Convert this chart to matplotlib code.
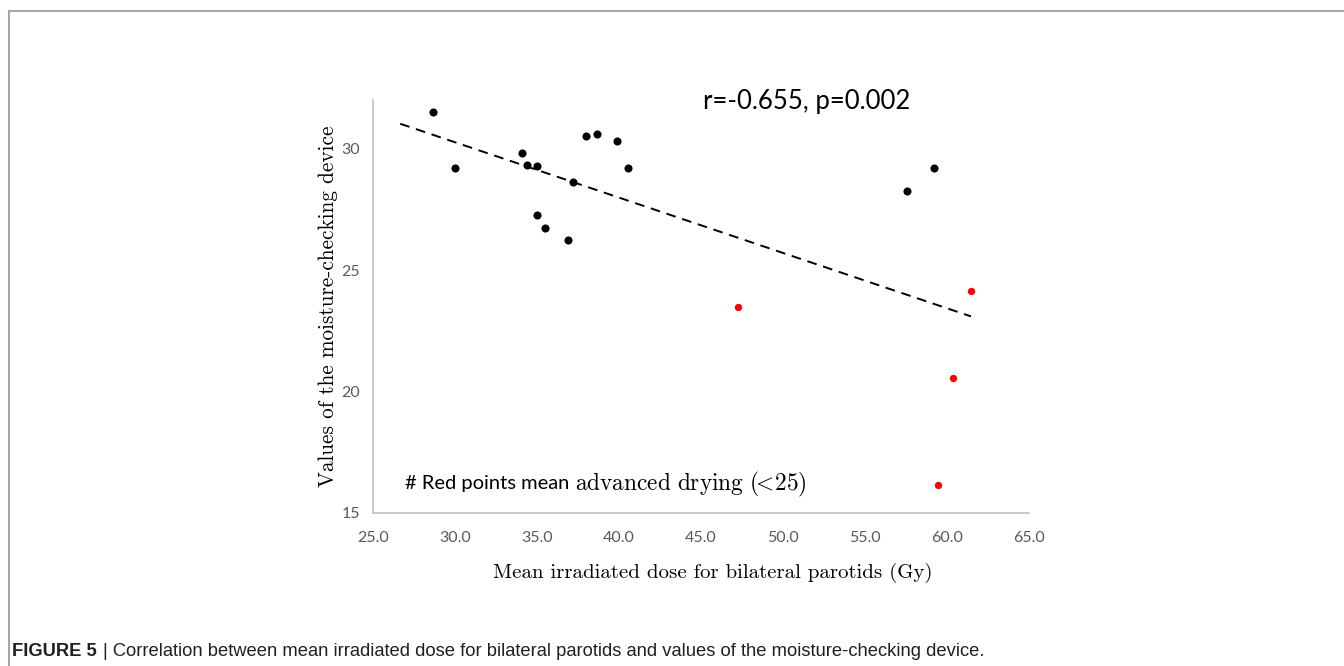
import numpy as np
import matplotlib
matplotlib.use("Agg")
import matplotlib.pyplot as plt
from matplotlib.lines import Line2D
from matplotlib import font_manager as fm

plt.rcParams['mathtext.fontset'] = 'cm'

# Data
dose_normal = [28.66, 30.0, 34.09, 34.39, 35.0, 35.0, 35.49, 36.89, 37.20, 37.99, 38.66, 39.88, 40.55, 57.56, 59.21]
value_normal = [31.52, 29.22, 29.80, 29.34, 29.30, 27.25, 26.72, 26.23, 28.61, 30.53, 30.61, 30.33, 29.22, 28.24, 29.22]
dose_dry = [47.26, 61.46, 60.37, 59.45]
value_dry = [23.48, 24.14, 20.57, 16.15]
x_ticks = [25.0, 30.0, 35.0, 40.0, 45.0, 50.0, 55.0, 60.0, 65.0]
y_ticks = [15, 20, 25, 30]
stat_text = "r=-0.655, p=0.002"
x_label = "Mean irradiated dose for bilateral parotids (Gy)"
y_label = "Values of the moisture-checking device"

names = {f.name for f in fm.fontManager.ttflist}
sans = 'Lato' if 'Lato' in names else 'DejaVu Sans'
narrow = 'Liberation Sans Narrow' if 'Liberation Sans Narrow' in names else 'Liberation Sans'

fig = plt.figure(figsize=(13.44, 6.66), dpi=100)

# outer frame
fig.add_artist(Line2D([9/1344, 9/1344], [0, 1 - 10.5/666], transform=fig.transFigure, color='#a6a6a6', lw=1.5))
fig.add_artist(Line2D([9/1344, 1], [1 - 10.5/666, 1 - 10.5/666], transform=fig.transFigure, color='#a6a6a6', lw=1.5))

ax = fig.add_axes([373/1344, 1 - 513/666, (1029 - 373)/1344, (513 - 100)/666])
ax.set_xlim(25, 65)
ax.set_ylim(15, 32)

all_x = np.array(dose_normal + dose_dry)
all_y = np.array(value_normal + value_dry)
slope, intercept = np.polyfit(all_x, all_y, 1)
xs = np.array([all_x.min() - 2, all_x.max()])
ax.plot(xs, slope * xs + intercept, color='black', lw=1.4, ls=(0, (5, 3.5)), zorder=2)

ax.scatter(dose_normal, value_normal, s=34, color='black', zorder=3, linewidths=0)
ax.scatter(dose_dry, value_dry, s=28, color='#ff0000', zorder=3, linewidths=0)

ax.set_xticks(x_ticks)
ax.set_xticklabels([f"{v:.1f}" for v in x_ticks])
ax.set_yticks(y_ticks)
ax.set_yticklabels([str(v) for v in y_ticks])
ax.tick_params(length=0, labelsize=11.5, labelcolor='#595959')
ax.tick_params(axis='x', pad=13)
ax.tick_params(axis='y', pad=9.5)
for lab in ax.get_xticklabels() + ax.get_yticklabels():
    lab.set_family(sans)

for s in ['top', 'right']:
    ax.spines[s].set_visible(False)
for s in ['left', 'bottom']:
    ax.spines[s].set_color('#bfbfbf')
    ax.spines[s].set_linewidth(1.2)

ax.set_xlabel(x_label, family='cmr10', fontsize=15)
ax.set_ylabel(y_label, family='cmr10', fontsize=15.3)
ax.xaxis.set_label_coords((713 - 373) / 656, (513 - 563) / 413)
ax.yaxis.set_label_coords((338 - 373) / 656, 0.5)

fig.text(703/1344, 1 - 101/666, stat_text, family=sans, fontsize=18.5, va='center', ha='left')

renderer = fig.canvas.get_renderer()
t1 = fig.text(405/1344, 1 - 484/666, '# Red points mean', family=sans, fontsize=14.5, va='center', ha='left')
bb = t1.get_window_extent(renderer)
fig.text((bb.x1 + 6) / 1344, 1 - 484/666, r'$\mathrm{advanced\ drying\ (\!\!<\!25)}$',
         fontsize=16.8, va='center', ha='left')

cap_y = 1 - 651/666
c1 = fig.text(12/1344, cap_y, 'FIGURE 5', family=narrow, fontweight='bold', fontsize=13.2, va='center', ha='left', color='#231f20')
bb = c1.get_window_extent(renderer)
fig.text((bb.x1 + 6) / 1344, cap_y, '| Correlation between mean irradiated dose for bilateral parotids and values of the moisture-checking device.',
         family=narrow, fontsize=13.2, va='center', ha='left', color='#231f20')

fig.savefig('out.png', dpi=100)
